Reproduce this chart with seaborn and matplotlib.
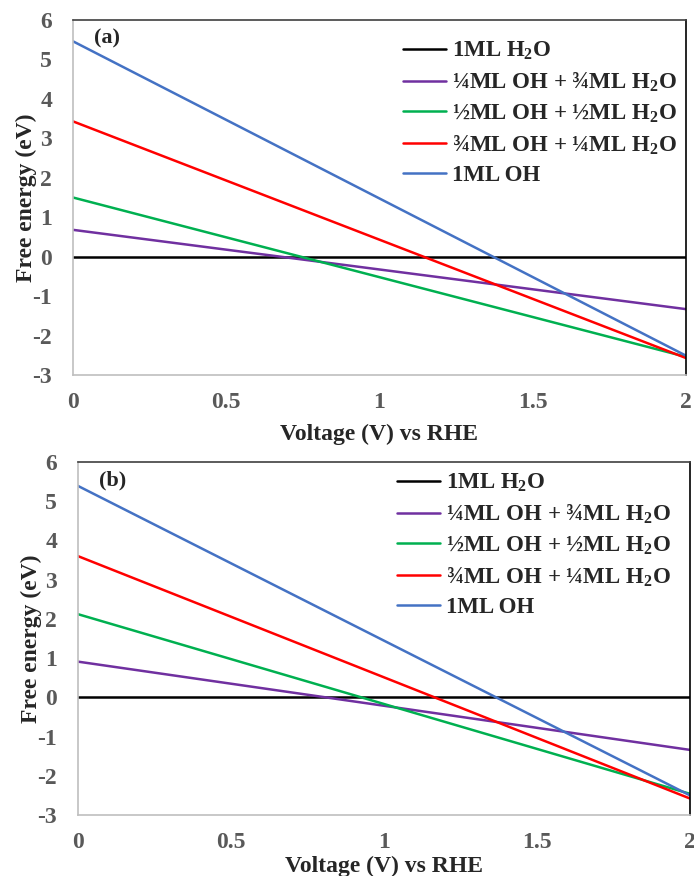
import numpy as np
import pandas as pd
import matplotlib
matplotlib.use("Agg")
import matplotlib.pyplot as plt
import seaborn as sns

# data (values at V = 0 and V = 2)
voltage = [0, 2]
labels = [
    "1ML H$_2$O",
    "¼ML OH + ¾ML H$_2$O",
    "½ML OH + ½ML H$_2$O",
    "¾ML OH + ¼ML H$_2$O",
    "1ML OH",
]
colors = ["#000000", "#7030A0", "#00B050", "#FF0000", "#4472C4"]

# panel (a)
a_h2o = [0.0, 0.0]
a_quarter = [0.68, -1.33]
a_half = [1.50, -2.54]
a_three_q = [3.43, -2.57]
a_oh = [5.46, -2.51]

# panel (b)
b_h2o = [0.0, 0.0]
b_quarter = [0.91, -1.34]
b_half = [2.12, -2.46]
b_three_q = [3.60, -2.58]
b_oh = [5.39, -2.50]

sns.set_style("white")
plt.rcParams["font.family"] = ["Liberation Serif", "DejaVu Serif"]
plt.rcParams["font.weight"] = "bold"
plt.rcParams["axes.unicode_minus"] = False
plt.rcParams["mathtext.fontset"] = "custom"
plt.rcParams["mathtext.rm"] = "Liberation Serif:bold"
plt.rcParams["mathtext.it"] = "Liberation Serif:bold"
plt.rcParams["mathtext.bf"] = "Liberation Serif:bold"


def make_df(series):
    rows = []
    for lab, vals in zip(labels, series):
        for v, g in zip(voltage, vals):
            rows.append({"V": v, "G": g, "series": lab})
    return pd.DataFrame(rows)


fig = plt.figure(figsize=(6.94, 8.76), dpi=100)
W, H = 694, 876
ax_a = fig.add_axes([73 / W, 1 - 375 / H, (686 - 73) / W, (375 - 20) / H])
ax_b = fig.add_axes([78 / W, 1 - 815 / H, (690 - 78) / W, (815 - 462) / H])

panels = [
    (ax_a, [a_h2o, a_quarter, a_half, a_three_q, a_oh], "(a)", (0.538, 0.944), 8),
    (ax_b, [b_h2o, b_quarter, b_half, b_three_q, b_oh], "(b)", (0.521, 0.972), 2),
]

for ax, series, tag, anchor, xpad in panels:
    df = make_df(series)
    sns.lineplot(data=df, x="V", y="G", hue="series", hue_order=labels,
                 palette=colors, linewidth=1.8, ax=ax)
    ax.set_xlim(0, 2)
    ax.set_ylim(-3, 6)
    ax.set_xticks([0, 0.5, 1, 1.5, 2])
    ax.set_xticklabels(["0", "0.5", "1", "1.5", "2"])
    ax.set_yticks(range(-3, 7))
    ax.tick_params(axis="both", length=0, labelsize=17, labelcolor="#595959")
    ax.tick_params(axis="x", pad=12)
    ax.tick_params(axis="y", pad=15)
    for t in ax.get_xticklabels() + ax.get_yticklabels():
        t.set_fontweight("bold")
    ax.set_xlabel("Voltage (V) vs RHE", fontsize=17, fontweight="bold", labelpad=xpad)
    ax.set_ylabel("Free energy (eV)", fontsize=17, fontweight="bold", labelpad=-3)
    ax.spines["left"].set_color("#bfbfbf")
    ax.spines["bottom"].set_color("#bfbfbf")
    ax.spines["top"].set_color("#404040")
    ax.spines["right"].set_color("#000000")
    for s in ax.spines.values():
        s.set_linewidth(1.2)
    ax.text(0.035, 0.975, tag, transform=ax.transAxes, fontsize=16,
            fontweight="bold", va="top", ha="left")
    ax.legend(loc="upper left", bbox_to_anchor=anchor, frameon=False,
              prop={"family": "Liberation Serif", "weight": "bold", "size": 16.5},
              handlelength=1.9, handletextpad=0.25, labelspacing=0.37,
              borderaxespad=0, borderpad=0)

fig.savefig("out.png", dpi=100)
